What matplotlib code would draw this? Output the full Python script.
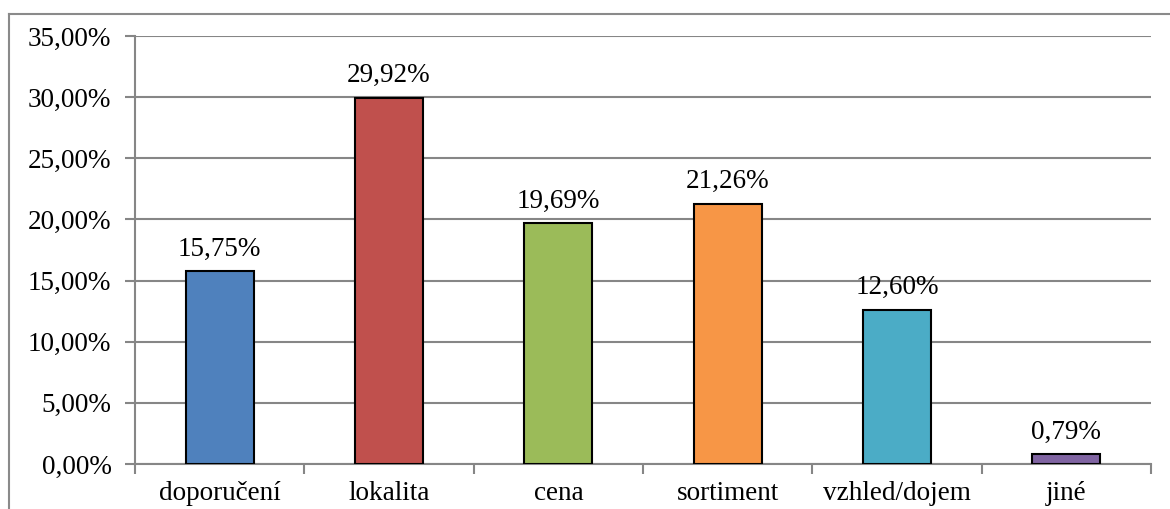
import matplotlib
matplotlib.use("Agg")
import matplotlib.pyplot as plt
from matplotlib.lines import Line2D
from matplotlib.ticker import FuncFormatter, MultipleLocator

categories = ["doporučení", "lokalita", "cena", "sortiment", "vzhled/dojem", "jiné"]
values = [15.75, 29.92, 19.69, 21.26, 12.60, 0.79]
colors = ["#4F81BD", "#C0504D", "#9BBB59", "#F79646", "#4BACC6", "#8064A2"]

plt.rcParams['font.family'] = ['Liberation Serif', 'DejaVu Serif']
FS = 19.5

W, H = 1170, 509
fig = plt.figure(figsize=(W / 100, H / 100), dpi=100)
ax = fig.add_axes([135 / W, 1 - 464 / H, (1151 - 135) / W, (464 - 36) / H])

x = list(range(len(categories)))
ax.bar(x, values, width=0.4, color=colors, edgecolor="black", linewidth=1.5, zorder=3)
for xi, v in zip(x, values):
    ax.annotate(f"{v:.2f}%".replace(".", ","), (xi, v), xytext=(0, 7),
                textcoords="offset points", ha="center", va="bottom", fontsize=FS)

ax.set_xlim(-0.5, len(categories) - 0.5)
ax.set_ylim(0, 35)
ax.yaxis.set_major_locator(MultipleLocator(5))
ax.yaxis.set_major_formatter(FuncFormatter(lambda v, p: f"{v:.2f}%".replace(".", ",")))
ax.set_xticks(x)
ax.set_xticklabels(categories)
ax.set_xticks([i - 0.5 for i in range(len(categories) + 1)], minor=True)
ax.tick_params(axis="x", which="major", length=0, pad=12, labelsize=FS)
ax.tick_params(axis="x", which="minor", length=7, width=1.5, color="#868686", direction="out")
ax.tick_params(axis="y", length=7, width=1.5, color="#868686", labelsize=FS, pad=10)
ax.grid(axis="y", color="#868686", linewidth=1.5, zorder=0)
for s in ["top", "right"]:
    ax.spines[s].set_visible(False)
for s in ["left", "bottom"]:
    ax.spines[s].set_color("#868686")
    ax.spines[s].set_linewidth(1.5)

# outer chart border
fig.add_artist(Line2D([9 / W, 9 / W], [0, 1 - 14 / H], transform=fig.transFigure, color="#8a8a8a", linewidth=1.5))
fig.add_artist(Line2D([9 / W, 1], [1 - 14 / H, 1 - 14 / H], transform=fig.transFigure, color="#8a8a8a", linewidth=1.5))

fig.savefig("out.png", dpi=100, facecolor="white")
